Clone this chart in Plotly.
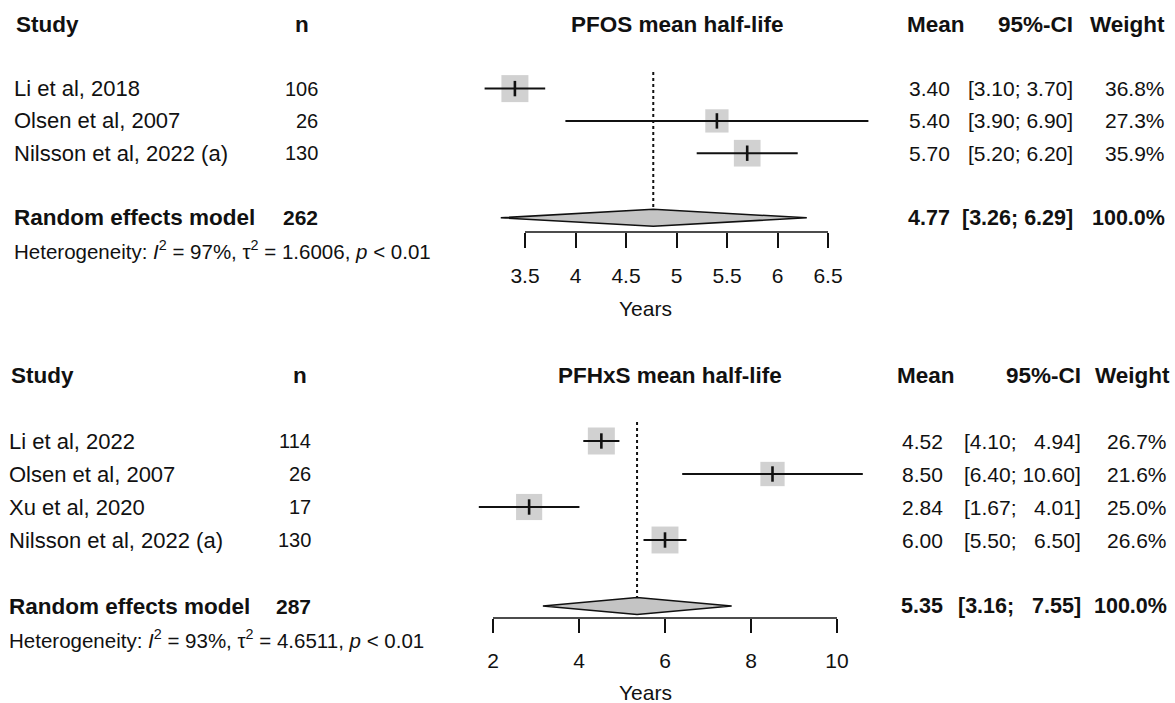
import plotly.graph_objects as go

# ---------------- data ----------------
pfos_studies = ["Li et al, 2018", "Olsen et al, 2007", "Nilsson et al, 2022 (a)"]
pfos_n = [106, 26, 130]
pfos_mean = [3.40, 5.40, 5.70]
pfos_lower = [3.10, 3.90, 5.20]
pfos_upper = [3.70, 6.90, 6.20]
pfos_weight = [36.8, 27.3, 35.9]
pfos_pooled_n = 262
pfos_pooled_mean = 4.77
pfos_pooled_lower = 3.26
pfos_pooled_upper = 6.29
pfos_i2 = "97%"
pfos_tau2 = "1.6006"
pfos_p = "0.01"
pfos_ticks = [3.5, 4, 4.5, 5, 5.5, 6, 6.5]

pfhxs_studies = ["Li et al, 2022", "Olsen et al, 2007", "Xu et al, 2020", "Nilsson et al, 2022 (a)"]
pfhxs_n = [114, 26, 17, 130]
pfhxs_mean = [4.52, 8.50, 2.84, 6.00]
pfhxs_lower = [4.10, 6.40, 1.67, 5.50]
pfhxs_upper = [4.94, 10.60, 4.01, 6.50]
pfhxs_weight = [26.7, 21.6, 25.0, 26.6]
pfhxs_pooled_n = 287
pfhxs_pooled_mean = 5.35
pfhxs_pooled_lower = 3.16
pfhxs_pooled_upper = 7.55
pfhxs_i2 = "93%"
pfhxs_tau2 = "4.6511"
pfhxs_p = "0.01"
pfhxs_ticks = [2, 4, 6, 8, 10]

# ---------------- layout helpers ----------------
W, H = 1175, 703
FONT = "Liberation Sans, Arial, sans-serif"
TXT = "#111111"
REG = 22        # study names
NUM = 21        # numeric columns
NCOL = 20       # n column
HET = 20.5      # heterogeneity line
BOLD = 22.5
TICK = 21
SQ_COL = "#bdbdbd"
DIA_COL = "#c4c4c4"


def px(x):
    return x / W


def py(y):
    return 1 - y / H


fig = go.Figure()
annotations = []
shapes = []

panels = [
    dict(title="PFOS mean half-life", studies=pfos_studies, n=pfos_n, mean=pfos_mean,
         lower=pfos_lower, upper=pfos_upper, weight=pfos_weight, pn=pfos_pooled_n,
         pm=pfos_pooled_mean, pl=pfos_pooled_lower, pu=pfos_pooled_upper,
         i2=pfos_i2, tau2=pfos_tau2, p=pfos_p, ticks=pfos_ticks,
         xa="x", ya="y", xkey="xaxis", ykey="yaxis",
         top=24, step=32.3, ytop=0, ybot=350,
         tick_px=(525, 828), dom_px=(480, 880), axis_y=232, ticklen=15,
         study_x=12, study_hx=14, n_x=320, n_hx=302, title_x=677,
         mean_hx=905, ci_hx=1075, w_hx=1167, mean_x=952, ci_x=1075, w_x=1167,
         years_y=308, dot_top=72, dia_h=8.5),
    dict(title="PFHxS mean half-life", studies=pfhxs_studies, n=pfhxs_n, mean=pfhxs_mean,
         lower=pfhxs_lower, upper=pfhxs_upper, weight=pfhxs_weight, pn=pfhxs_pooled_n,
         pm=pfhxs_pooled_mean, pl=pfhxs_pooled_lower, pu=pfhxs_pooled_upper,
         i2=pfhxs_i2, tau2=pfhxs_tau2, p=pfhxs_p, ticks=pfhxs_ticks,
         xa="x2", ya="y2", xkey="xaxis2", ykey="yaxis2",
         top=375, step=33, ytop=350, ybot=703,
         tick_px=(493, 837), dom_px=(460, 890), axis_y=618, ticklen=14,
         study_x=7, study_hx=9, n_x=313, n_hx=300, title_x=670,
         mean_hx=895, ci_hx=1083, w_hx=1172, mean_x=945, ci_x=1083, w_x=1169,
         years_y=692, dot_top=422, dia_h=8.5),
]

layout_axes = {}

for P in panels:
    k = len(P["studies"])
    rows = [2 + i for i in range(k)]
    re_row = k + 3
    het_row = k + 4
    step = P["step"]

    # y axis in row units
    r_top = (P["ytop"] - P["top"]) / step
    r_bot = (P["ybot"] - P["top"]) / step
    layout_axes[P["ykey"]] = dict(domain=[py(P["ybot"]), py(P["ytop"])], range=[r_bot, r_top],
                                  visible=False, fixedrange=True)

    # x axis, tick positions mapped to pixels
    t0, t1 = min(P["ticks"]), max(P["ticks"])
    ppu = (P["tick_px"][1] - P["tick_px"][0]) / (t1 - t0)
    x0 = t0 - (P["tick_px"][0] - P["dom_px"][0]) / ppu
    x1 = t1 + (P["dom_px"][1] - P["tick_px"][1]) / ppu
    layout_axes[P["xkey"]] = dict(
        domain=[px(P["dom_px"][0]), px(P["dom_px"][1])], range=[x0, x1],
        anchor="free", position=py(P["axis_y"]),
        tickvals=P["ticks"], ticks="outside", ticklen=P["ticklen"], tickwidth=1.6,
        tickcolor="#111111", showgrid=False, zeroline=False, showline=False,
        tickfont=dict(family=FONT, size=TICK, color=TXT), ticklabelstandoff=10,
        fixedrange=True,
    )
    # axis line spanning the ticks only
    shapes.append(dict(type="line", xref=P["xa"], yref="paper", x0=t0, x1=t1,
                       y0=py(P["axis_y"]), y1=py(P["axis_y"]),
                       line=dict(color="#111111", width=1.6)))

    # dotted line at pooled mean
    dia_h = P["dia_h"] / step
    fig.add_trace(go.Scatter(
        x=[P["pm"], P["pm"]], y=[(P["dot_top"] - P["top"]) / step, re_row - dia_h],
        mode="lines", line=dict(color="#111111", width=2, dash="dot"),
        xaxis=P["xa"], yaxis=P["ya"], hoverinfo="skip", showlegend=False))

    # squares (area proportional to weight)
    wmax = max(P["weight"])
    sizes = [27 * (w / wmax) ** 0.5 for w in P["weight"]]
    fig.add_trace(go.Scatter(
        x=P["mean"], y=rows, mode="markers",
        marker=dict(symbol="square", size=sizes, color=SQ_COL, line=dict(width=0)),
        xaxis=P["xa"], yaxis=P["ya"], hoverinfo="skip", showlegend=False))

    # CI lines
    cx, cy = [], []
    for lo, hi, r in zip(P["lower"], P["upper"], rows):
        cx += [lo, hi, None]
        cy += [r, r, None]
    fig.add_trace(go.Scatter(
        x=cx, y=cy, mode="lines", line=dict(color="#111111", width=2),
        xaxis=P["xa"], yaxis=P["ya"], hoverinfo="skip", showlegend=False))

    # point estimate tick
    fig.add_trace(go.Scatter(
        x=P["mean"], y=rows, mode="markers",
        marker=dict(symbol="line-ns-open", size=11, color="#111111",
                    line=dict(color="#111111", width=2.6)),
        xaxis=P["xa"], yaxis=P["ya"], hoverinfo="skip", showlegend=False))

    # pooled diamond
    fig.add_trace(go.Scatter(
        x=[P["pl"], P["pm"], P["pu"], P["pm"], P["pl"]],
        y=[re_row, re_row - dia_h, re_row, re_row + dia_h, re_row],
        mode="lines", fill="toself", fillcolor=DIA_COL,
        line=dict(color="#111111", width=1.6),
        xaxis=P["xa"], yaxis=P["ya"], hoverinfo="skip", showlegend=False))

    def ann(text, x, row, anchor, bold=False, size=None):
        annotations.append(dict(
            text=("<b>%s</b>" % text) if bold else text,
            xref="paper", yref=P["ya"], x=px(x), y=row, xanchor=anchor, yanchor="middle",
            showarrow=False,
            font=dict(family=FONT, size=size or (BOLD if bold else REG), color=TXT)))

    # headers
    ann("Study", P["study_hx"], 0, "left", bold=True)
    ann("n", P["n_hx"], 0, "center", bold=True)
    ann(P["title"], P["title_x"], 0, "center", bold=True)
    ann("Mean", P["mean_hx"], 0, "left", bold=True)
    ann("95%-CI", P["ci_hx"], 0, "right", bold=True)
    ann("Weight", P["w_hx"], 0, "right", bold=True)

    wid = max(len("%.2f" % u) for u in P["upper"] + [P["pu"]])

    def ci_text(lo, hi):
        s = "%.2f" % hi
        s = "\u2007" * (wid - len(s)) + s
        return "[%.2f; %s]" % (lo, s)

    for s, n, m, lo, hi, w, r in zip(P["studies"], P["n"], P["mean"], P["lower"],
                                     P["upper"], P["weight"], rows):
        ann(s, P["study_x"], r, "left")
        ann(str(n), P["n_x"], r, "right", size=NCOL)
        ann("%.2f" % m, P["mean_x"], r, "right", size=NUM)
        ann(ci_text(lo, hi), P["ci_x"], r, "right", size=NUM)
        ann("%.1f%%" % w, P["w_x"], r, "right", size=NUM)

    ann("Random effects model", P["study_x"], re_row, "left", bold=True)
    ann(str(P["pn"]), P["n_x"], re_row, "right", bold=True, size=21)
    ann("%.2f" % P["pm"], P["mean_x"], re_row, "right", bold=True, size=21.5)
    ann(ci_text(P["pl"], P["pu"]), P["ci_x"], re_row, "right", bold=True, size=21.5)
    ann("100.0%", P["w_x"], re_row, "right", bold=True, size=21.5)

    het = ("Heterogeneity: <i>I</i><sup>2</sup> = %s, \u03c4<sup>2</sup> = %s, <i>p</i> &lt; %s"
           % (P["i2"], P["tau2"], P["p"]))
    ann(het, P["study_x"], het_row, "left", size=HET)

    # axis title
    annotations.append(dict(text="Years", xref="paper", yref="paper", x=px(646),
                            y=py(P["years_y"]), xanchor="center", yanchor="middle",
                            showarrow=False, font=dict(family=FONT, size=TICK, color=TXT)))

fig.update_layout(
    width=W, height=H, margin=dict(l=0, r=0, t=0, b=0),
    paper_bgcolor="white", plot_bgcolor="white",
    showlegend=False, annotations=annotations, shapes=shapes,
    **layout_axes,
)

fig.write_html("out.html", config={"displayModeBar": False},
               post_script="document.body.style.margin='0';document.body.style.overflow='hidden';")
